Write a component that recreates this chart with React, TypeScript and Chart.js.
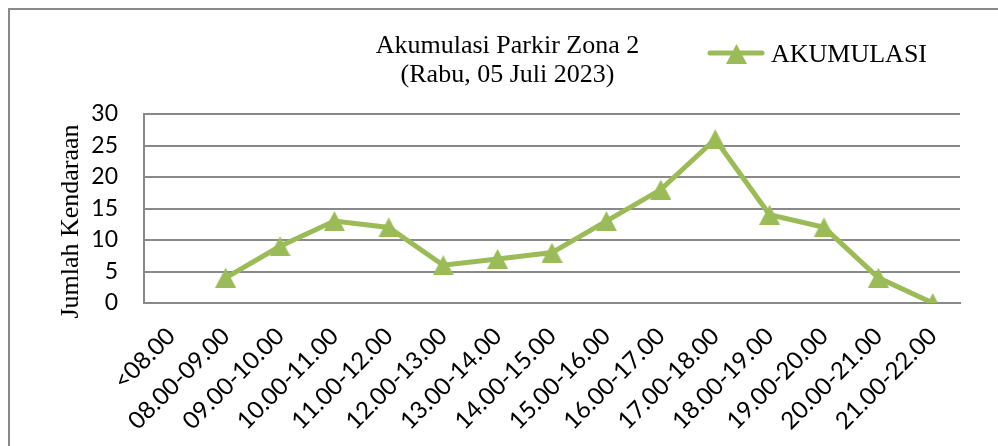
import { useEffect, useRef } from 'react';
import { Chart, registerables } from 'chart.js';

Chart.register(...registerables);

// ---- data ----
const TITLE_LINES = ['Akumulasi Parkir Zona 2', '(Rabu, 05 Juli 2023)'];
const SERIES_LABEL = 'AKUMULASI';
const Y_AXIS_TITLE = 'Jumlah Kendaraan';
const CATEGORIES = [
  '<08.00',
  '08.00-09.00',
  '09.00-10.00',
  '10.00-11.00',
  '11.00-12.00',
  '12.00-13.00',
  '13.00-14.00',
  '14.00-15.00',
  '15.00-16.00',
  '16.00-17.00',
  '17.00-18.00',
  '18.00-19.00',
  '19.00-20.00',
  '20.00-21.00',
  '21.00-22.00',
];
const AKUMULASI: (number | null)[] = [null, 4, 9, 13, 12, 6, 7, 8, 13, 18, 26, 14, 12, 4, 0];
const Y_MIN = 0;
const Y_MAX = 30;
const Y_STEP = 5;

// ---- styles ----
const GREEN = '#9BBB59';
const GRID = '#898989';
const SERIF = '"Liberation Serif", "Times New Roman", serif';
const SANS = 'Lato, "Noto Sans", sans-serif';

function makeTriangle(w: number, h: number, color: string) {
  const c = document.createElement('canvas');
  c.width = w;
  c.height = h;
  const ctx = c.getContext('2d')!;
  ctx.fillStyle = color;
  ctx.beginPath();
  ctx.moveTo(w / 2, 0);
  ctx.lineTo(w, h);
  ctx.lineTo(0, h);
  ctx.closePath();
  ctx.fill();
  return c;
}

export default function App() {
  const ref = useRef<HTMLCanvasElement | null>(null);

  useEffect(() => {
    if (!ref.current) return;
    const marker = makeTriangle(21, 20, GREEN);

    const framePlugin = {
      id: 'frame',
      beforeDraw(chart: any) {
        const ctx = chart.ctx;
        ctx.save();
        ctx.strokeStyle = GRID;
        ctx.lineWidth = 2;
        ctx.strokeRect(1, 1, chart.width + 20, chart.height + 20);
        ctx.restore();
      },
    };

    const legendPlugin = {
      id: 'lineLegend',
      afterDraw(chart: any) {
        const ctx = chart.ctx;
        const ds = chart.data.datasets[0];
        ctx.save();
        ctx.strokeStyle = ds.borderColor;
        ctx.lineWidth = 5;
        ctx.lineCap = 'round';
        ctx.beginPath();
        ctx.moveTo(702, 45);
        ctx.lineTo(754, 45);
        ctx.stroke();
        ctx.drawImage(marker, 728.5 - marker.width / 2, 46 - marker.height / 2);
        ctx.font = `26px ${SERIF}`;
        ctx.fillStyle = '#000';
        ctx.textBaseline = 'alphabetic';
        ctx.textAlign = 'left';
        ctx.fillText(ds.label, 763, 54);
        ctx.restore();
      },
    };

    const chart = new Chart(ref.current, {
      type: 'line',
      data: {
        labels: CATEGORIES,
        datasets: [
          {
            label: SERIES_LABEL,
            data: AKUMULASI,
            borderColor: GREEN,
            backgroundColor: GREEN,
            borderWidth: 5,
            pointStyle: marker as any,
            pointRadius: 10,
            pointHoverRadius: 10,
            tension: 0,
            fill: false,
          },
        ],
      },
      options: {
        responsive: false,
        animation: false,
        layout: { padding: { left: 9, right: 0, top: 0, bottom: 0 } },
        plugins: {
          legend: { display: false },
          tooltip: { enabled: false },
          title: {
            display: true,
            text: TITLE_LINES,
            color: '#000',
            font: { family: SERIF, size: 26, weight: 'normal', lineHeight: 29 / 26 },
            padding: { top: 24, bottom: 24 },
          },
        },
        scales: {
          x: {
            type: 'category',
            offset: true,
            grid: { display: false, drawTicks: false },
            border: { display: true, color: GRID, width: 2 },
            ticks: {
              color: '#000',
              font: { family: SANS, size: 24 },
              minRotation: 45,
              maxRotation: 45,
              autoSkip: false,
              padding: 19,
            },
            afterFit: (s: any) => {
              s.height = 143;
            },
          },
          y: {
            min: Y_MIN,
            max: Y_MAX,
            ticks: {
              stepSize: Y_STEP,
              color: '#000',
              font: { family: SANS, size: 23 },
              padding: 26,
            },
            grid: { color: GRID, lineWidth: 2, drawTicks: false },
            border: { color: GRID, width: 2 },
            title: {
              display: true,
              text: Y_AXIS_TITLE + '    ',
              color: '#000',
              font: { family: SERIF, size: 26, weight: 'normal' },
              padding: { top: 39, bottom: 0 },
            },
            afterFit: (s: any) => {
              s.width = 127;
            },
          },
          spacer: {
            type: 'linear',
            position: 'right',
            display: true,
            grid: { display: false, drawTicks: false },
            border: { display: false },
            ticks: { display: false },
            afterFit: (s: any) => {
              s.width = 38;
            },
          },
        },
      } as any,
      plugins: [framePlugin, legendPlugin],
    });

    return () => chart.destroy();
  }, []);

  return (
    <div style={{ position: 'fixed', left: 8, top: 8, width: 990, height: 438 }}>
      <canvas ref={ref} width={990} height={438} style={{ display: 'block' }} />
    </div>
  );
}
